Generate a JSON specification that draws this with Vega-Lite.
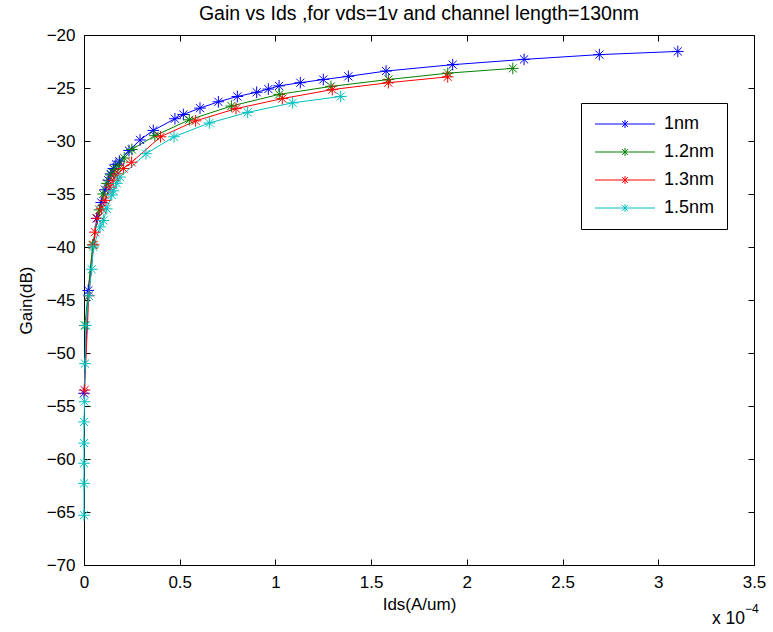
{
  "$schema": "https://vega.github.io/schema/vega-lite/v6.json",
  "width": 670,
  "height": 530,
  "autosize": {"type": "none"},
  "padding": {"left": 84, "top": 35, "right": 19, "bottom": 67},
  "background": "white",
  "title": {"text": "Gain vs Ids ,for vds=1v and channel length=130nm", "fontSize": 19.5, "font": "Liberation Sans", "fontWeight": "normal", "color": "black", "offset": 2, "anchor": "middle"},
  "config": {
    "view": {"stroke": "black", "strokeWidth": 1},
    "font": "Liberation Sans",
    "axis": {"labelFont": "Liberation Sans", "titleFont": "Liberation Sans", "labelFontSize": 17, "titleFontSize": 17, "titleFontWeight": "normal", "labelColor": "black", "titleColor": "black", "domainColor": "black", "tickColor": "black", "grid": false, "tickSize": -6, "labelPadding": 15, "labelFlush": false, "labelOverlap": false}
  },
  "data": {"values": [
    {"s":"1nm","i":1,"x":0.0,"y":-53.8},
    {"s":"1nm","i":2,"x":0.022,"y":-44.1},
    {"s":"1nm","i":3,"x":0.066,"y":-37.3},
    {"s":"1nm","i":4,"x":0.09,"y":-35.8},
    {"s":"1nm","i":5,"x":0.11,"y":-34.6},
    {"s":"1nm","i":6,"x":0.127,"y":-33.7},
    {"s":"1nm","i":7,"x":0.139,"y":-33.1},
    {"s":"1nm","i":8,"x":0.153,"y":-32.6},
    {"s":"1nm","i":9,"x":0.167,"y":-32.2},
    {"s":"1nm","i":10,"x":0.185,"y":-31.9},
    {"s":"1nm","i":11,"x":0.235,"y":-30.9},
    {"s":"1nm","i":12,"x":0.293,"y":-29.9},
    {"s":"1nm","i":13,"x":0.362,"y":-29.0},
    {"s":"1nm","i":14,"x":0.475,"y":-27.9},
    {"s":"1nm","i":15,"x":0.519,"y":-27.5},
    {"s":"1nm","i":16,"x":0.606,"y":-26.9},
    {"s":"1nm","i":17,"x":0.702,"y":-26.3},
    {"s":"1nm","i":18,"x":0.801,"y":-25.8},
    {"s":"1nm","i":19,"x":0.902,"y":-25.4},
    {"s":"1nm","i":20,"x":0.963,"y":-25.1},
    {"s":"1nm","i":21,"x":1.019,"y":-24.8},
    {"s":"1nm","i":22,"x":1.13,"y":-24.5},
    {"s":"1nm","i":23,"x":1.25,"y":-24.2},
    {"s":"1nm","i":24,"x":1.381,"y":-23.9},
    {"s":"1nm","i":25,"x":1.578,"y":-23.4},
    {"s":"1nm","i":26,"x":1.926,"y":-22.8},
    {"s":"1nm","i":27,"x":2.299,"y":-22.3},
    {"s":"1nm","i":28,"x":2.692,"y":-21.85},
    {"s":"1nm","i":29,"x":3.102,"y":-21.55},
    {"s":"1.2nm","i":1,"x":0.005,"y":-47.4},
    {"s":"1.2nm","i":2,"x":0.045,"y":-39.8},
    {"s":"1.2nm","i":3,"x":0.08,"y":-36.5},
    {"s":"1.2nm","i":4,"x":0.10,"y":-35.0},
    {"s":"1.2nm","i":5,"x":0.12,"y":-34.0},
    {"s":"1.2nm","i":6,"x":0.14,"y":-33.2},
    {"s":"1.2nm","i":7,"x":0.16,"y":-32.7},
    {"s":"1.2nm","i":8,"x":0.18,"y":-32.3},
    {"s":"1.2nm","i":9,"x":0.21,"y":-31.6},
    {"s":"1.2nm","i":10,"x":0.25,"y":-30.8},
    {"s":"1.2nm","i":11,"x":0.37,"y":-29.5},
    {"s":"1.2nm","i":12,"x":0.55,"y":-28.0},
    {"s":"1.2nm","i":13,"x":0.77,"y":-26.7},
    {"s":"1.2nm","i":14,"x":1.02,"y":-25.6},
    {"s":"1.2nm","i":15,"x":1.29,"y":-24.85},
    {"s":"1.2nm","i":16,"x":1.59,"y":-24.2},
    {"s":"1.2nm","i":17,"x":1.90,"y":-23.6},
    {"s":"1.2nm","i":18,"x":2.24,"y":-23.15},
    {"s":"1.3nm","i":1,"x":0.003,"y":-53.5},
    {"s":"1.3nm","i":2,"x":0.025,"y":-44.6},
    {"s":"1.3nm","i":3,"x":0.05,"y":-39.8},
    {"s":"1.3nm","i":4,"x":0.057,"y":-38.6},
    {"s":"1.3nm","i":5,"x":0.07,"y":-37.3},
    {"s":"1.3nm","i":6,"x":0.092,"y":-36.4},
    {"s":"1.3nm","i":7,"x":0.11,"y":-35.6},
    {"s":"1.3nm","i":8,"x":0.136,"y":-34.35},
    {"s":"1.3nm","i":9,"x":0.153,"y":-33.7},
    {"s":"1.3nm","i":10,"x":0.174,"y":-33.1},
    {"s":"1.3nm","i":11,"x":0.206,"y":-32.6},
    {"s":"1.3nm","i":12,"x":0.249,"y":-32.0},
    {"s":"1.3nm","i":13,"x":0.40,"y":-29.6},
    {"s":"1.3nm","i":14,"x":0.583,"y":-28.1},
    {"s":"1.3nm","i":15,"x":0.794,"y":-26.95},
    {"s":"1.3nm","i":16,"x":1.036,"y":-26.0},
    {"s":"1.3nm","i":17,"x":1.297,"y":-25.15},
    {"s":"1.3nm","i":18,"x":1.59,"y":-24.5},
    {"s":"1.3nm","i":19,"x":1.90,"y":-23.95},
    {"s":"1.5nm","i":1,"x":0.0,"y":-65.3},
    {"s":"1.5nm","i":2,"x":0.0,"y":-62.3},
    {"s":"1.5nm","i":3,"x":0.0,"y":-60.4},
    {"s":"1.5nm","i":4,"x":0.0,"y":-58.5},
    {"s":"1.5nm","i":5,"x":0.0,"y":-56.5},
    {"s":"1.5nm","i":6,"x":0.003,"y":-54.6},
    {"s":"1.5nm","i":7,"x":0.005,"y":-51.0},
    {"s":"1.5nm","i":8,"x":0.01,"y":-47.4},
    {"s":"1.5nm","i":9,"x":0.025,"y":-44.6},
    {"s":"1.5nm","i":10,"x":0.04,"y":-42.1},
    {"s":"1.5nm","i":11,"x":0.049,"y":-40.0},
    {"s":"1.5nm","i":12,"x":0.084,"y":-38.1},
    {"s":"1.5nm","i":13,"x":0.101,"y":-37.5},
    {"s":"1.5nm","i":14,"x":0.119,"y":-36.4},
    {"s":"1.5nm","i":15,"x":0.145,"y":-35.1},
    {"s":"1.5nm","i":16,"x":0.153,"y":-34.7},
    {"s":"1.5nm","i":17,"x":0.171,"y":-34.0},
    {"s":"1.5nm","i":18,"x":0.188,"y":-33.4},
    {"s":"1.5nm","i":19,"x":0.324,"y":-31.2},
    {"s":"1.5nm","i":20,"x":0.47,"y":-29.6},
    {"s":"1.5nm","i":21,"x":0.655,"y":-28.3},
    {"s":"1.5nm","i":22,"x":0.855,"y":-27.3},
    {"s":"1.5nm","i":23,"x":1.09,"y":-26.4},
    {"s":"1.5nm","i":24,"x":1.341,"y":-25.8}
  ]},
  "resolve": {"axis": {"x": "independent", "y": "independent"}},
  "layer": [
    {
      "mark": {"type": "line", "strokeWidth": 1, "clip": false},
      "encoding": {
        "x": {"field": "x", "type": "quantitative", "scale": {"domain": [0, 3.5], "nice": false, "zero": false}, "axis": {"title": "Ids(A/um)", "format": "~g", "values": [0,0.5,1,1.5,2,2.5,3,3.5], "titlePadding": 6, "orient": "bottom"}},
        "y": {"field": "y", "type": "quantitative", "scale": {"domain": [-70, -20], "nice": false, "zero": false}, "axis": {"title": "Gain(dB)", "values": [-70,-65,-60,-55,-50,-45,-40,-35,-30,-25,-20], "titlePadding": 11, "orient": "left"}},
        "color": {"field": "s", "type": "nominal", "sort": ["1nm","1.2nm","1.3nm","1.5nm"], "scale": {"domain": ["1nm","1.2nm","1.3nm","1.5nm"], "range": ["#0000FF","#008000","#FF0000","#00BFBF"]},
          "legend": {"orient": "none", "legendX": 497, "legendY": 68, "title": null, "symbolType": "M-6,0H6M0,-0.8V0.8M-0.57,-0.57L0.57,0.57M-0.57,0.57L0.57,-0.57", "symbolSize": 100, "symbolStrokeWidth": 1, "symbolOffset": 23, "labelOffset": 30, "labelFontSize": 18, "labelFont": "Liberation Sans", "labelColor": "black", "padding": 12, "rowPadding": 10, "strokeColor": "black", "fillColor": "white", "labelLimit": 200}},
        "order": {"field": "i", "type": "quantitative"}
      }
    },
    {
      "mark": {"type": "point", "filled": false, "shape": "M0,-1V1M-1,0H1M-0.7,-0.7L0.7,0.7M-0.7,0.7L0.7,-0.7", "size": 135, "strokeWidth": 1, "opacity": 1, "clip": false},
      "encoding": {
        "x": {"field": "x", "type": "quantitative", "axis": null},
        "y": {"field": "y", "type": "quantitative", "axis": null},
        "color": {"field": "s", "type": "nominal", "sort": ["1nm","1.2nm","1.3nm","1.5nm"]}
      }
    },
    {
      "data": {"values": [{"t": "x 10"}]},
      "mark": {"type": "text", "align": "right", "baseline": "middle", "dx": -9, "dy": 54, "fontSize": 17.5, "font": "Liberation Sans", "color": "black"},
      "encoding": {
        "x": {"datum": 3.5, "type": "quantitative", "axis": {"orient": "top", "labels": false, "title": null, "values": [0,0.5,1,1.5,2,2.5,3,3.5], "domain": false}},
        "y": {"datum": -70, "type": "quantitative", "axis": {"orient": "right", "labels": false, "title": null, "values": [-70,-65,-60,-55,-50,-45,-40,-35,-30,-25,-20], "domain": false}},
        "text": {"field": "t"}
      }
    },
    {
      "data": {"values": [{"t": "−4"}]},
      "mark": {"type": "text", "align": "left", "baseline": "middle", "dx": -9, "dy": 44, "fontSize": 12, "font": "Liberation Sans", "color": "black"},
      "encoding": {
        "x": {"datum": 3.5, "type": "quantitative", "axis": null},
        "y": {"datum": -70, "type": "quantitative", "axis": null},
        "text": {"field": "t"}
      }
    }
  ]
}
